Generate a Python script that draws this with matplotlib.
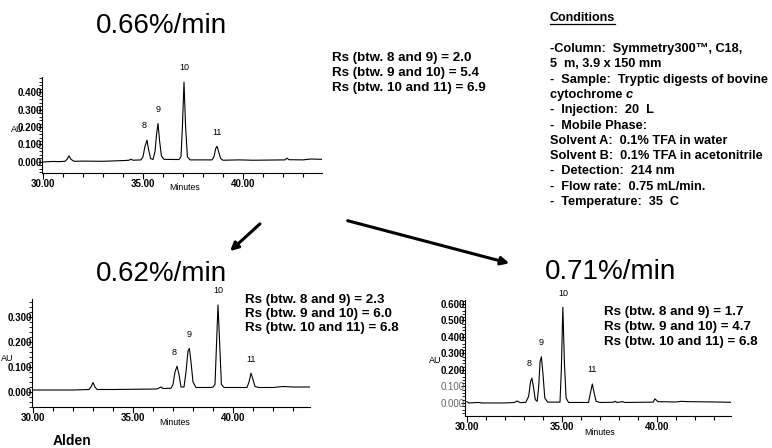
import matplotlib
matplotlib.use("Agg")
import matplotlib.pyplot as plt
from matplotlib.ticker import MultipleLocator, FormatStrFormatter
from matplotlib.patches import FancyArrowPatch
from matplotlib.lines import Line2D

plt.rcParams['font.family'] = ['Liberation Sans', 'DejaVu Sans']

W, H = 772, 448

# ---- data ----
# 0.66%/min run (top)
t066 = [30.0, 30.5, 30.8, 31.1, 31.2, 31.3, 31.4, 31.55, 32.0, 33.0, 34.0, 34.3, 34.4, 34.5,
        34.9, 35.0, 35.1, 35.2, 35.28, 35.38, 35.5, 35.6, 35.68, 35.75, 35.83, 35.92, 36.05,
        36.8, 36.9, 36.97, 37.05, 37.13, 37.22, 37.35, 38.45, 38.55, 38.63, 38.7, 38.78, 38.88,
        39.0, 39.8, 40.5, 42.1, 42.2, 42.3, 43.0, 43.4, 43.95]
au066 = [0.000, 0.003, 0.002, 0.004, 0.015, 0.035, 0.015, 0.004, 0.005, 0.004, 0.008, 0.010, 0.016, 0.010,
         0.012, 0.030, 0.090, 0.125, 0.070, 0.020, 0.014, 0.060, 0.160, 0.220, 0.120, 0.035, 0.015,
         0.014, 0.030, 0.200, 0.457, 0.200, 0.030, 0.012, 0.012, 0.030, 0.075, 0.090, 0.060, 0.020,
         0.010, 0.012, 0.010, 0.012, 0.022, 0.013, 0.012, 0.017, 0.015]
peaks066_t = [35.2, 35.75, 37.05, 38.7]
peaks066_h = [0.125, 0.220, 0.457, 0.090]
rs066 = ["Rs (btw. 8 and 9) = 2.0", "Rs (btw. 9 and 10) = 5.4", "Rs (btw. 10 and 11) = 6.9"]

# 0.62%/min run (bottom left)
t062 = [30.0, 32.0, 32.8, 32.9, 33.0, 33.1, 33.2, 34.0, 36.2, 36.4, 36.5, 36.9, 37.0, 37.1, 37.2,
        37.3, 37.4, 37.55, 37.65, 37.75, 37.82, 37.9, 38.0, 38.15, 38.9, 39.0, 39.1, 39.18, 39.25,
        39.33, 39.42, 39.55, 40.7, 40.8, 40.9, 41.0, 41.1, 41.3, 42.0, 42.5, 43.0, 43.85]
au062 = [0.008, 0.008, 0.010, 0.020, 0.038, 0.020, 0.010, 0.010, 0.012, 0.020, 0.014, 0.015, 0.030, 0.080, 0.103,
         0.070, 0.020, 0.020, 0.080, 0.165, 0.174, 0.120, 0.040, 0.018, 0.018, 0.020, 0.030, 0.200, 0.348,
         0.200, 0.030, 0.018, 0.018, 0.040, 0.075, 0.050, 0.022, 0.018, 0.018, 0.022, 0.020, 0.020]
peaks062_t = [37.2, 37.82, 39.25, 40.9]
peaks062_h = [0.103, 0.174, 0.348, 0.075]
rs062 = ["Rs (btw. 8 and 9) = 2.3", "Rs (btw. 9 and 10) = 6.0", "Rs (btw. 10 and 11) = 6.8"]

# 0.71%/min run (bottom right)
t071 = [30.0, 30.1, 30.6, 30.8, 32.0, 32.5, 32.65, 32.8, 33.1, 33.25, 33.35, 33.42, 33.5, 33.6,
        33.7, 33.78, 33.85, 33.92, 34.0, 34.1, 34.25, 34.9, 34.97, 35.05, 35.13, 35.22, 35.35,
        36.4, 36.5, 36.6, 36.7, 36.8, 37.0, 37.7, 37.8, 37.9, 38.2, 38.3, 39.8, 39.9, 40.05,
        41.0, 41.3, 41.6, 43.0, 43.9]
au071 = [0.008, 0.000, 0.003, 0.000, 0.000, 0.003, 0.012, 0.002, 0.004, 0.040, 0.130, 0.150, 0.100, 0.020,
         0.010, 0.100, 0.250, 0.280, 0.180, 0.030, 0.005, 0.005, 0.200, 0.580, 0.250, 0.030, 0.003,
         0.003, 0.060, 0.115, 0.060, 0.010, 0.003, 0.004, 0.010, 0.003, 0.008, 0.003, 0.005, 0.025, 0.008,
         0.006, 0.010, 0.008, 0.006, 0.004]
peaks071_t = [33.42, 33.92, 35.05, 36.6]
peaks071_h = [0.150, 0.280, 0.580, 0.115]
rs071 = ["Rs (btw. 8 and 9) = 1.7", "Rs (btw. 9 and 10) = 4.7", "Rs (btw. 10 and 11) = 6.8"]

peak_names = ["8", "9", "10", "11"]

conditions = [
    "-Column:  Symmetry300\u2122, C18,",
    "5  m, 3.9 x 150 mm",
    "-  Sample:  Tryptic digests of bovine",
    "cytochrome ",
    "-  Injection:  20  L",
    "-  Mobile Phase:",
    "Solvent A:  0.1% TFA in water",
    "Solvent B:  0.1% TFA in acetonitrile",
    "-  Detection:  214 nm",
    "-  Flow rate:  0.75 mL/min.",
    "-  Temperature:  35  C",
]


def fx(x):
    return x / W


def fy(y):
    return 1 - y / H


def rect(l, t, r, b):
    return [l / W, 1 - b / H, (r - l) / W, (b - t) / H]


fig = plt.figure(figsize=(W / 100, H / 100), dpi=100)


def chromatogram(box, xlim, ylim, ymax, t, au, pk_t, pk_h):
    ax = fig.add_axes(rect(*box))
    ax.plot(t, au, color='black', lw=0.8)
    ax.set_xlim(*xlim)
    ax.set_ylim(*ylim)
    for s in ['top', 'right']:
        ax.spines[s].set_visible(False)
    for s in ['left', 'bottom']:
        ax.spines[s].set_linewidth(0.8)
    ax.set_facecolor('none')
    ax.xaxis.set_major_locator(MultipleLocator(5))
    ax.xaxis.set_minor_locator(MultipleLocator(1))
    ax.xaxis.set_major_formatter(FormatStrFormatter('%.2f'))
    ax.set_yticks([i / 10 for i in range(int(round(ymax * 10)) + 1)])
    ax.yaxis.set_minor_locator(MultipleLocator(0.02))
    ax.yaxis.set_major_formatter(FormatStrFormatter('%.3f'))
    ax.tick_params(axis='x', which='major', length=4, width=0.8, pad=0.5, labelsize=7)
    ax.tick_params(axis='x', which='minor', length=3, width=0.8)
    ax.tick_params(axis='y', which='major', length=3, width=0.8, pad=-3, labelsize=7)
    ax.tick_params(axis='y', which='minor', length=2, width=0.6)
    for lab in ax.get_xticklabels() + ax.get_yticklabels():
        lab.set_fontweight('bold')
    for name, x, y in zip(peak_names, pk_t, pk_h):
        dx = -2 if name == "8" else 0
        ax.annotate(name, (x, y), xytext=(dx, 7), textcoords='offset points',
                    ha='center', va='bottom', fontsize=6.5)
    return ax


ax1 = chromatogram((42, 77, 322, 173), (29.95, 43.95), (-0.063, 0.486), 0.4,
                   t066, au066, peaks066_t, peaks066_h)
ax2 = chromatogram((32, 299, 310, 407), (29.95, 43.85), (-0.06, 0.372), 0.3,
                   t062, au062, peaks062_t, peaks062_h)
ax3 = chromatogram((465, 300, 731, 416), (29.9, 43.9), (-0.079, 0.624), 0.6,
                   t071, au071, peaks071_t, peaks071_h)
# the two lowest labels of the right plot are printed lighter in the figure
for lab in ax3.get_yticklabels()[:2]:
    lab.set_color('#666666')
    lab.set_fontweight('normal')

# axis captions
for x, y in [(17, 129), (7, 358), (435, 360)]:
    fig.text(fx(x), fy(y), "AU", ha='center', va='center', fontsize=6.5)
for x, y in [(185, 187), (175, 422), (600, 432)]:
    fig.text(fx(x), fy(y), "Minutes", ha='center', va='center', fontsize=6.3)

# gradient slopes
for s, x, y in [("0.66%/min", 161, 33), ("0.62%/min", 161, 281), ("0.71%/min", 611, 279)]:
    fig.text(fx(x), fy(y), s, ha='center', va='baseline', fontsize=20)

# resolution values
for lines, x, y0, dy in [(rs066, 332, 58, 15), (rs062, 245, 300, 14), (rs071, 604, 312, 15)]:
    for i, s in enumerate(lines):
        fig.text(fx(x), fy(y0 + i * dy), s, ha='left', va='center',
                 fontsize=9.6, fontweight='bold')

# conditions block
ttl = fig.text(fx(550), fy(18), "Conditions", ha='left', va='center',
               fontsize=9, fontweight='bold')
cond_texts = []
for i, s in enumerate(conditions):
    cond_texts.append(fig.text(fx(550), fy(49 + i * 15.3), s, ha='left', va='center',
                               fontsize=9.2, fontweight='bold'))

fig.canvas.draw()
r = fig.canvas.get_renderer()
bb = ttl.get_window_extent(r)
fig.add_artist(Line2D([bb.x0 / W, bb.x1 / W], [fy(24), fy(24)], color='black', lw=0.9,
                      transform=fig.transFigure))
bb = cond_texts[3].get_window_extent(r)
fig.text(bb.x1 / W, fy(49 + 3 * 15.3), "c", ha='left', va='center', fontsize=9.2,
         fontweight='bold', fontstyle='italic')

# arrows between the runs
for a, b in [((262, 222), (228, 253)), ((345, 220), (512, 264))]:
    fig.add_artist(FancyArrowPatch((fx(a[0]), fy(a[1])), (fx(b[0]), fy(b[1])),
                                   transform=fig.transFigure, arrowstyle='-|>',
                                   mutation_scale=12, lw=2.2, color='black'))

fig.text(fx(72), fy(441), "Alden", ha='center', va='center', fontsize=10, fontweight='bold')

fig.savefig("out.png", dpi=100)
